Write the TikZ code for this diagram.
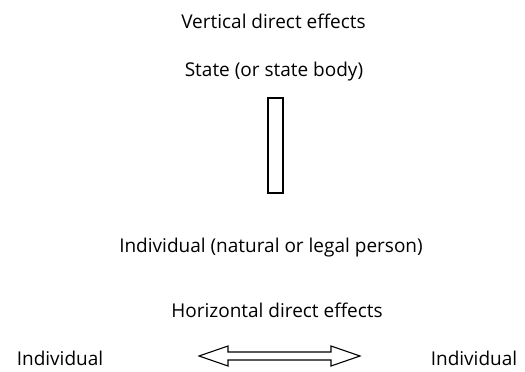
\documentclass[tikz,border=0pt]{standalone}
\usepackage{fontspec}
\setmainfont{Open Sans}

\begin{document}
\begin{tikzpicture}[x=1pt, y=-1pt,
    label/.style={anchor=base, inner sep=0pt, font=\fontsize{19}{21}\selectfont},
    bar/.style={draw, line width=1.1pt, inner sep=0pt, minimum width=15pt, minimum height=95pt}]
            \useasboundingbox (0,0) rectangle (525,372);

            % vertical part
            \node[label] (vert) at (273.5,28) {Vertical direct effects};
            \node[label] (state) at (274,76) {State (or state body)};
            \node[bar] (shaft) at (275.5,145.5) {};
            \node[label] (person) at (271,252) {Individual (natural or legal person)};

            % horizontal part
            \node[label] (horiz) at (277,317) {Horizontal direct effects};
            \node[label] (left) at (60,365) {Individual};
            \node[label] (right) at (474,365) {Individual};
            \coordinate (both) at (279.5,356);

            \draw[line width=1.1pt, line join=miter] (both) ++(-80.5,0) -- ++(29,-10) -- ++(0,6)
                -- ++(103,0) -- ++(0,-6) -- ++(29,10) -- ++(-29,10) -- ++(0,-6)
                -- ++(-103,0) -- ++(0,6) -- cycle;
        \end{tikzpicture}
\end{document}
